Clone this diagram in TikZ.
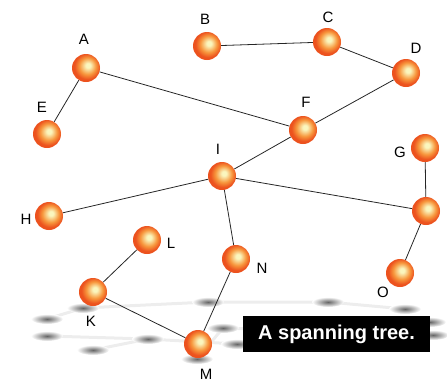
\documentclass[tikz,border=0pt]{standalone}
\usepackage{fontspec}
\setmainfont{Liberation Sans}
\usepackage{tikz}
\usetikzlibrary{positioning}

\definecolor{orbhi}{RGB}{250,246,190}
\definecolor{orbmid}{RGB}{247,150,60}
\definecolor{orblo}{RGB}{236,82,30}
\pgfdeclareradialshading{orb}{\pgfpoint{4bp}{5bp}}{color(0bp)=(orbhi); color(4bp)=(orbhi); color(15bp)=(orbmid); color(23bp)=(orblo); color(50bp)=(orblo)}

\begin{document}
\begin{tikzpicture}[
    x=1pt, y=-1pt,
    ball/.style={circle, shading=orb, minimum size=28pt, inner sep=0pt},
    lbl/.style={font=\fontsize{15}{17}\selectfont, inner sep=1pt},
    edge/.style={line width=0.8pt, black!85},
    shade/.style={shading=radial, inner color=black!60, outer color=white},
    trace/.style={line width=3pt, gray!14}
]
\useasboundingbox (0,0) rectangle (447,381);

% shadows on the floor
\draw[trace] (47,319) -- (83,308) -- (208,302) -- (328,302) -- (405,309);
\draw[trace] (47,336) -- (148,339) -- (237,344) -- (430,322);
\draw[trace] (93,350) -- (148,339);
\draw[trace] (197,359) -- (223,328) -- (433,335);
\foreach \sx/\sy in {83/308, 47/319, 47/336, 93/350, 148/339, 208/302,
    223/328, 197/359, 237/344, 328/302, 405/309, 430/322, 433/335}
  \shade[shade] (\sx,\sy) ellipse (16 and 5);

% vertices
\node[ball] (a) at (86,68) {};
\node[ball] (b) at (207,46) {};
\node[ball] (c) at (327,42) {};
\node[ball] (d) at (406,73) {};
\node[ball] (e) at (47,134) {};
\node[ball] (f) at (303,130) {};
\node[ball] (g) at (425,148) {};
\node[ball] (h) at (49,216) {};
\node[ball] (i) at (222,176) {};
\node[ball] (j) at (426,211) {};
\node[ball] (k) at (93,292) {};
\node[ball] (l) at (147,240) {};
\node[ball] (m) at (198,344) {};
\node[ball] (n) at (236,259) {};
\node[ball] (o) at (400,273) {};

% tree edges
\draw[edge] (e) -- (a);
\draw[edge] (a) -- (f);
\draw[edge] (b) -- (c);
\draw[edge] (c) -- (d);
\draw[edge] (d) -- (f);
\draw[edge] (f) -- (i);
\draw[edge] (i) -- (h);
\draw[edge] (i) -- (n);
\draw[edge] (i) -- (j);
\draw[edge] (g) -- (j);
\draw[edge] (j) -- (o);
\draw[edge] (l) -- (k);
\draw[edge] (k) -- (m);
\draw[edge] (m) -- (n);

% labels
\node[lbl] (la) at (84,39) {A};
\node[lbl] (lb) at (205,19) {B};
\node[lbl] (lc) at (328,17) {C};
\node[lbl] (ld) at (416,48) {D};
\node[lbl] (le) at (42,107) {E};
\node[lbl] (lf) at (306,102) {F};
\node[lbl] (lg) at (400,152) {G};
\node[lbl] (lh) at (26,219) {H};
\node[lbl] (li) at (218,149) {I};
\node[lbl] (lk) at (91,321) {K};
\node[lbl] (ll) at (171,243) {L};
\node[lbl] (lm) at (206,374) {M};
\node[lbl] (ln) at (262,268) {N};
\node[lbl] (lo) at (383,292) {O};

\node[fill=black, text=white, font=\bfseries\fontsize{20}{22}\selectfont,
      minimum width=187pt, minimum height=36pt, inner sep=0pt] (cap) at (336.5,334) {A spanning tree.};
\end{tikzpicture}
\end{document}
